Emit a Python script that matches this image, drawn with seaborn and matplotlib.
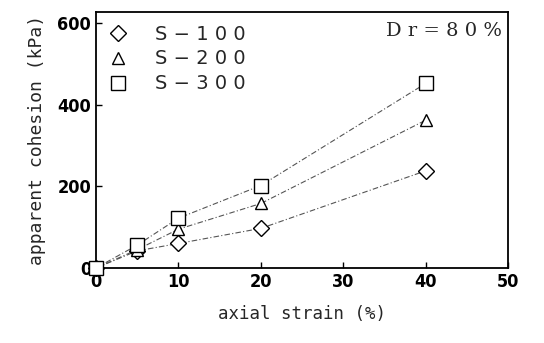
import matplotlib
matplotlib.use("Agg")
import matplotlib.pyplot as plt
from matplotlib.lines import Line2D
import seaborn as sns
import pandas as pd

strain = [0, 5, 10, 20, 40]
s100 = [0, 42, 60, 97, 238]
s200 = [0, 45, 95, 158, 362]
s300 = [0, 56, 122, 202, 452]
series_names = ["S − 1 0 0", "S − 2 0 0", "S − 3 0 0"]
series_vals = [s100, s200, s300]
markers = ["D", "^", "s"]
msizes = [8, 9, 10]

sns.set_theme(style="ticks")
plt.rcParams['font.family'] = ['DejaVu Sans']

fig = plt.figure(figsize=(5.44, 3.43), dpi=100)
ax = fig.add_axes([0.1765, 0.2187, 0.934 - 0.1765, 0.965 - 0.2187])

for name, vals, mk, ms in zip(series_names, series_vals, markers, msizes):
    df = pd.DataFrame({"strain": strain, "cohesion": vals})
    sns.lineplot(data=df, x="strain", y="cohesion", ax=ax, color="#555555",
                 linewidth=0.8, linestyle=(0, (5, 2, 1, 2)), marker=mk,
                 markersize=ms, markerfacecolor="white", markeredgecolor="black",
                 markeredgewidth=1.0, legend=False, clip_on=False, zorder=5)

ax.set_xlim(0, 50)
ax.set_ylim(0, 627)
ax.set_xticks([0, 10, 20, 30, 40, 50])
ax.set_yticks([0, 200, 400, 600])
ax.tick_params(direction="in", length=4, width=1, colors="black", labelsize=13)
for lab in ax.get_xticklabels() + ax.get_yticklabels():
    lab.set_fontweight("bold")
    lab.set_fontstretch("condensed")
for sp in ax.spines.values():
    sp.set_visible(True)
    sp.set_linewidth(1.3)
    sp.set_color("black")

ax.set_xlabel("axial strain (%)", fontfamily="DejaVu Sans Mono", fontsize=12.5, labelpad=10)
ax.set_ylabel("apparent cohesion (kPa)", fontfamily="DejaVu Sans Mono", fontsize=13, labelpad=8)

handles = [Line2D([], [], linestyle="none", marker=mk, markersize=ms,
                  markerfacecolor="white", markeredgecolor="black", markeredgewidth=1.0)
           for mk, ms in zip(markers, msizes)]
ax.legend(handles, series_names, loc="upper left", frameon=False,
          prop={"family": "DejaVu Sans", "size": 14}, handletextpad=1.4,
          labelspacing=0.3, borderaxespad=0.25, handlelength=1.0)

ax.text(0.985, 0.925, "D r = 8 0 %", transform=ax.transAxes, ha="right", va="center",
        fontsize=14, fontfamily="DejaVu Serif")

fig.savefig("out.png", dpi=100)
